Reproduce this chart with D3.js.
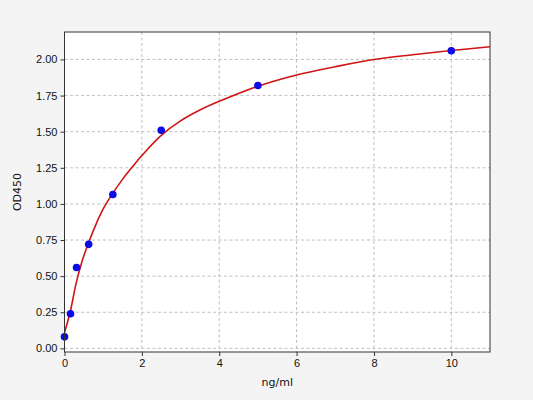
<!DOCTYPE html>
<html>
<head>
<meta charset="utf-8">
<script src="https://cdn.jsdelivr.net/npm/d3@7"></script>
<style>
  body { margin: 0; background: #f4f4f4; }
  svg { display: block; font-family: "DejaVu Sans", sans-serif; }
  .grid line { stroke: #b0b0b0; stroke-width: 0.8px; stroke-dasharray: 3 2.5; }
  .axis path.domain { display: none; }
  .axis line { stroke: #333; }
  .axis text { fill: #111; font-size: 11px; }
</style>
</head>
<body>
<div id="chart"></div>
<script>
// measured standards
const concX = [0, 0.156, 0.312, 0.625, 1.25, 2.5, 5, 10];
const odY = [0.08, 0.24, 0.56, 0.72, 1.065, 1.51, 1.82, 2.06];

// fitted curve
const curveX = [0, 0.05, 0.15, 0.3, 0.45, 0.6, 0.8, 1.0, 1.25, 1.5, 1.75, 2.0, 2.5, 3, 3.5, 4, 5, 6, 7, 8, 9, 10, 11];
const curveY = [0.11, 0.155, 0.255, 0.45, 0.6, 0.715, 0.85, 0.965, 1.075, 1.17, 1.255, 1.335, 1.475, 1.575, 1.65, 1.71, 1.815, 1.893, 1.95, 2.0, 2.033, 2.062, 2.088];

const xTicks = [0, 2, 4, 6, 8, 10];
const yTicks = [0, 0.25, 0.5, 0.75, 1.0, 1.25, 1.5, 1.75, 2.0];

const W = 533, H = 400;
const margin = { top: 32, right: 43, bottom: 48, left: 64.5 };
const width = W - margin.left - margin.right,
    height = H - margin.top - margin.bottom;

const xScale = d3.scaleLinear().domain([0, 11]).range([0, width]);
const yScale = d3.scaleLinear().domain([-0.025, 2.19]).range([height, 0]);

const svg = d3.select('#chart').append('svg')
    .attr('width', W).attr('height', H);

const g = svg.append('g')
    .attr('transform', 'translate(' + margin.left + ',' + margin.top + ')');

g.append('rect').attr('width', width).attr('height', height).attr('fill', '#fff');

g.append('defs').append('clipPath').attr('id', 'plotClip')
    .append('rect').attr('width', width).attr('height', height);

// grid
g.append('g').attr('class', 'grid')
    .selectAll('line').data(xTicks).join('line')
    .attr('x1', d => xScale(d)).attr('x2', d => xScale(d))
    .attr('y1', 0).attr('y2', height);
g.append('g').attr('class', 'grid')
    .selectAll('line').data(yTicks).join('line')
    .attr('x1', 0).attr('x2', width)
    .attr('y1', d => yScale(d)).attr('y2', d => yScale(d));

// axes
g.append('g').attr('class', 'x axis')
    .attr('transform', 'translate(0,' + height + ')')
    .call(d3.axisBottom(xScale).tickValues(xTicks).tickSize(4).tickPadding(3).tickFormat(d3.format('d')));

g.append('g').attr('class', 'y axis')
    .call(d3.axisLeft(yScale).tickValues(yTicks).tickSize(4).tickPadding(3).tickFormat(d3.format('.2f')));

// curve
const curveData = curveX.map((x, i) => ({ x: x, y: curveY[i] }));
const line = d3.line()
    .curve(d3.curveCatmullRom.alpha(0.5))
    .x(d => xScale(d.x))
    .y(d => yScale(d.y));

g.append('path')
    .attr('clip-path', 'url(#plotClip)')
    .attr('d', line(curveData))
    .attr('fill', 'none')
    .attr('stroke', '#d01515')
    .attr('stroke-width', 1.6);

// points
g.append('g').selectAll('circle')
    .data(concX.map((x, i) => ({ x: x, y: odY[i] })))
    .join('circle')
    .attr('cx', d => xScale(d.x))
    .attr('cy', d => yScale(d.y))
    .attr('r', 3.8)
    .attr('fill', '#0a0ae6');

// spines
g.append('rect').attr('width', width).attr('height', height)
    .attr('fill', 'none').attr('stroke', '#333').attr('stroke-width', 1);

// labels
svg.append('text')
    .attr('x', margin.left + width / 2).attr('y', 386)
    .attr('text-anchor', 'middle').attr('font-size', 11).attr('fill', '#111')
    .text('ng/ml');

svg.append('text')
    .attr('transform', 'translate(21,' + (margin.top + height / 2) + ') rotate(-90)')
    .attr('text-anchor', 'middle').attr('font-size', 11).attr('fill', '#111')
    .text('OD450');
</script>
</body>
</html>
